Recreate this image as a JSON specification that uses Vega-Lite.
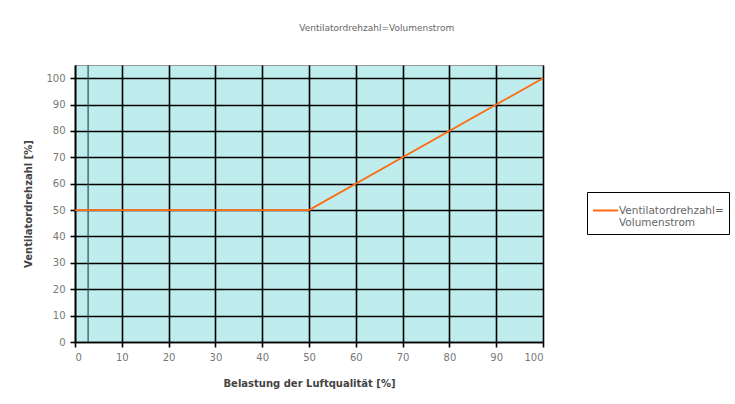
{
  "$schema": "https://vega.github.io/schema/vega-lite/v6.json",
  "width": 468,
  "height": 277,
  "autosize": {"type": "none"},
  "padding": {"left": 75, "top": 65, "right": 192, "bottom": 62},
  "background": "white",
  "title": {
    "text": "Ventilatordrehzahl=Volumenstrom",
    "frame": "bounds",
    "anchor": "middle",
    "fontSize": 9,
    "fontWeight": "normal",
    "color": "#666666",
    "font": "DejaVu Sans",
    "offset": 31
  },
  "config": {
    "font": "DejaVu Sans",
    "view": {"fill": "#BFECEC", "stroke": "#999999", "strokeWidth": 1}
  },
  "datasets": {
    "curve": [
      {"load": 0, "speed": 50, "series": "Ventilatordrehzahl=|Volumenstrom"},
      {"load": 50, "speed": 50, "series": "Ventilatordrehzahl=|Volumenstrom"},
      {"load": 100, "speed": 100, "series": "Ventilatordrehzahl=|Volumenstrom"}
    ],
    "marker": [{"load": 2.8}]
  },
  "layer": [
    {
      "data": {"name": "marker"},
      "mark": {"type": "rule", "color": "#2F4F4F", "strokeWidth": 1.2},
      "encoding": {
        "x": {"field": "load", "type": "quantitative"}
      }
    },
    {
      "data": {"name": "curve"},
      "mark": {"type": "line", "strokeWidth": 1.8},
      "encoding": {
        "x": {
          "field": "load",
          "type": "quantitative",
          "scale": {"domain": [0, 100], "nice": false},
          "axis": {
            "title": "Belastung der Luftqualität [%]",
            "values": [0, 10, 20, 30, 40, 50, 60, 70, 80, 90, 100],
            "grid": true,
            "gridColor": "#000000",
            "gridWidth": 1.6,
            "gridOpacity": 1,
            "domainColor": "#000000",
            "domainWidth": 1.6,
            "tickColor": "#000000",
            "tickWidth": 1.6,
            "tickSize": 5,
            "labelColor": "#777777",
            "labelFontSize": 10,
            "labelPadding": 5,
            "titleFontSize": 10,
            "titleFontWeight": "bold",
            "titleColor": "#444444",
            "titlePadding": 16
          }
        },
        "y": {
          "field": "speed",
          "type": "quantitative",
          "scale": {"domain": [0, 105], "nice": false},
          "axis": {
            "title": "Ventilatordrehzahl [%]",
            "values": [0, 10, 20, 30, 40, 50, 60, 70, 80, 90, 100],
            "grid": true,
            "gridColor": "#000000",
            "gridWidth": 1.6,
            "gridOpacity": 1,
            "domainColor": "#000000",
            "domainWidth": 1.6,
            "tickColor": "#000000",
            "tickWidth": 1.6,
            "tickSize": 5,
            "labelColor": "#777777",
            "labelFontSize": 10,
            "labelPadding": 5,
            "titleFontSize": 10,
            "titleFontWeight": "bold",
            "titleColor": "#444444",
            "titlePadding": 12
          }
        },
        "color": {
          "field": "series",
          "type": "nominal",
          "scale": {"range": ["#FF6A10"]},
          "legend": {
            "title": null,
            "orient": "none",
            "legendX": 512,
            "legendY": 127,
            "strokeColor": "#000000",
            "padding": 5,
            "symbolType": "stroke",
            "symbolSize": 625,
            "symbolStrokeWidth": 2,
            "labelExpr": "split(datum.label, '|')",
            "labelFontSize": 10.5,
            "labelColor": "#666666",
            "labelLimit": 250,
            "labelOffset": 0,
            "encoding": {
              "labels": {
                "enter": {"lineHeight": {"value": 18}},
                "update": {"lineHeight": {"value": 18}}
              }
            }
          }
        }
      }
    }
  ]
}
